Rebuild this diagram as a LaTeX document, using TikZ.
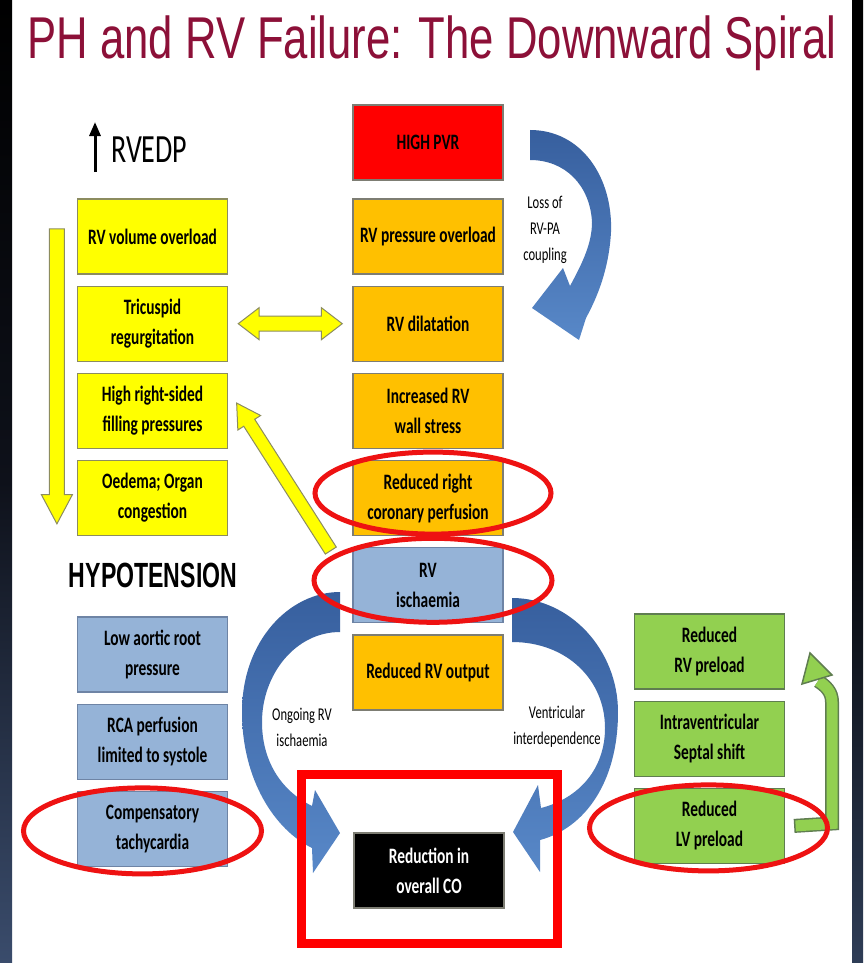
\documentclass[tikz,border=0pt]{standalone}
\usepackage{fontspec}
\setmainfont{Carlito}[FakeStretch=0.7]
\newfontfamily\titlefont{Liberation Sans}[FakeStretch=0.74]
\newfontfamily\hypofont{Liberation Sans}[FakeStretch=0.66]
\usetikzlibrary{positioning,calc,shapes.arrows,arrows.meta}

\definecolor{titlered}{RGB}{140,16,56}
\definecolor{volyellow}{RGB}{255,255,0}
\definecolor{presorange}{RGB}{255,192,0}
\definecolor{pvrred}{RGB}{255,0,0}
\definecolor{hypoblue}{RGB}{149,179,215}
\definecolor{lvgreen}{RGB}{146,208,80}
\definecolor{boxedge}{RGB}{125,125,115}
\definecolor{yedge}{RGB}{140,140,95}
\definecolor{bedge}{RGB}{110,132,165}
\definecolor{gedge}{RGB}{95,125,80}
\definecolor{spiraltop}{RGB}{55,95,158}
\definecolor{spiralbot}{RGB}{88,136,200}
\definecolor{ringred}{RGB}{238,18,18}
\definecolor{stripblue}{RGB}{58,76,108}
\definecolor{stripdark}{RGB}{14,17,26}

\begin{document}
\begin{tikzpicture}
[x=1pt,y=-1pt,%
  node distance=11pt,%
  box/.style={draw=boxedge,line width=1.2pt,minimum width=150pt,minimum height=75pt,%
    inner sep=2pt,align=center,font=\fontsize{22}{30}\selectfont\bfseries},%
  yellowbox/.style={box,fill=volyellow,draw=yedge},%
  orangebox/.style={box,fill=presorange},%
  bluebox/.style={box,fill=hypoblue,draw=bedge},%
  greenbox/.style={box,fill=lvgreen,draw=gedge},%
  yarrow/.style={draw=yedge,fill=volyellow,line width=1pt,inner sep=0pt,inner ysep=7pt},%
  spiral/.style={top color=spiraltop,bottom color=spiralbot},%
  ring/.style={draw=ringred,line width=5pt},%
  note/.style={align=center,font=\fontsize{18}{26}\selectfont}]

% slide with dark side strips
\useasboundingbox (0,0) rectangle (863,963);
\fill[white] (0,0) rectangle (863,963);
\shade[top color=black,bottom color=stripblue,middle color=stripdark] (0,0) rectangle (12,963);
\shade[top color=black,bottom color=stripblue!80!black,middle color=black] (852,0) rectangle (863,963);

\node[anchor=base,text=titlered,inner sep=0pt,font=\titlefont\fontsize{59}{59}\selectfont]
  (title) at (432,59) {PH and RV Failure: The Downward Spiral};

% centre column
\node[box,fill=pvrred] (pvr) at (428,142.5) {HIGH PVR};
\node[orangebox] (pres) at (428,236.5) {RV pressure overload};
\node[orangebox,below=of pres] (dil) {RV dilatation};
\node[orangebox,below=of dil] (wall) {Increased RV\\wall stress};
\node[orangebox,below=of wall] (coro) {Reduced right\\coronary perfusion};
\node[bluebox,below=of coro] (isch) {RV\\ischaemia};
\node[orangebox,below=of isch] (out) {Reduced RV output};

% right heart side
\node[inner sep=0pt,anchor=west,font=\fontsize{40}{40}\selectfont] (rvedp) at (111,150) {RVEDP};
\coordinate (rvedplo) at ($(rvedp.west)+(-16,22)$);
\coordinate (rvedphi) at ($(rvedp.west)+(-16,-28)$);
\draw[line width=3pt,-{Triangle[width=11pt,length=14pt]}] (rvedplo) -- (rvedphi);
\node[yellowbox] (vol) at (152.5,236.5) {RV volume overload};
\node[yellowbox,below=of vol] (tric) {Tricuspid\\regurgitation};
\node[yellowbox,below=of tric] (fillp) {High right-sided\\filling pressures};
\node[yellowbox,below=of fillp] (oed) {Oedema; Organ\\congestion};

% hypotension
\node[font=\hypofont\bfseries\fontsize{35}{35}\selectfont] (hypo) at (153,575) {HYPOTENSION};
\node[bluebox] (aortic) at (152.5,654.5) {Low aortic root\\pressure};
\node[bluebox,below=of aortic] (rca) {RCA perfusion\\limited to systole};
\node[bluebox,below=of rca] (tachy) {Compensatory\\tachycardia};

% left ventricle
\node[greenbox] (rvpre) at (709.5,651.5) {Reduced\\RV preload};
\node[greenbox,below=of rvpre] (septal) {Intraventricular\\Septal shift};
\node[greenbox,below=of septal] (lvpre) {Reduced\\LV preload};

\node[box,fill=black,text=white] (co) at (429,870.5) {Reduction in\\overall CO};

% yellow block arrows
\coordinate (rvtop) at ($(vol.west)+(-20,-16)$);
\coordinate (rvbot) at ($(oed.west)+(-20,20)$);
\path (rvtop) -- (rvbot) node[midway,sloped,allow upside down,yarrow,single arrow,
  minimum height=295pt,single arrow head extend=8pt,single arrow tip angle=56] (downarr) {};
\path (tric.east) -- (dil.west) node[midway,yarrow,double arrow,minimum height=104pt,
  double arrow head extend=8.5pt,double arrow tip angle=75] (tdarr) {};
\coordinate (fillin) at ($(fillp.east)+(11,-4)$);
\coordinate (ischout) at ($(isch.north west)+(-18,9)$);
\path (ischout) -- (fillin) node[midway,sloped,allow upside down,yarrow,inner ysep=6pt,single arrow,
  minimum height=175pt,single arrow head extend=7pt,single arrow tip angle=60] (diagarr) {};

% blue curved arrows
\shade[spiral] (530,130) .. controls (582,130) and (613,178) .. (611,232)
  .. controls (609,268) and (598,296) .. (586,318) -- (579,340) -- (532,308) -- (563,268) -- (570,286)
  .. controls (583,262) and (592,243) .. (592,222) .. controls (590,185) and (565,160) .. (530,160) -- cycle;
\node[note] (lossl) at (545,230) {Loss of\\RV-PA\\coupling};

\shade[spiral] (340,592) .. controls (290,592) and (242,640) .. (242,712)
  .. controls (242,780) and (275,830) .. (312,848) -- (313,873) -- (340,833) -- (315,790) -- (312,806)
  .. controls (280,790) and (262,760) .. (262,722) .. controls (262,675) and (295,632) .. (340,632) -- cycle;
\node[note] (ongl) at (302,727) {Ongoing RV\\ischaemia};

\shade[spiral] (512,598) .. controls (570,598) and (618,650) .. (618,712)
  .. controls (618,782) and (585,828) .. (540,840) -- (540,872) -- (513,832) -- (538,785) -- (541,808)
  .. controls (580,798) and (605,768) .. (605,728) .. controls (605,680) and (567,642) .. (512,642) -- cycle;
\node[note] (ventl) at (557,727) {Ventricular\\interdependence};

% green hook arrow
\coordinate (lvout) at ($(lvpre.east)+(9,0)$);
\draw[line width=14pt,draw=gedge] (lvout) -- (832,823.5) -- (832,702) .. controls (832,692) and (826,686) .. (818,681);
\draw[line width=11pt,draw=lvgreen] ($(lvout)+(1.5,0)$) -- (832,823.5) -- (832,702) .. controls (832,692) and (826,686) .. (818,681);
\filldraw[fill=lvgreen,draw=gedge,line width=1.5pt] (810,653) -- (832,675) -- (802,684) -- cycle;

% red highlights
\node[draw=pvrred,line width=9pt,minimum width=256pt,minimum height=169pt,inner sep=0pt] (cofr) at (429.5,859) {};
\draw[ring] ($(coro)+(5,-5)$) ellipse [x radius=118,y radius=41];
\draw[ring] ($(isch)+(5,-5)$) ellipse [x radius=119,y radius=42];
\draw[ring] ($(tachy)+(-10,2)$) ellipse [x radius=119,y radius=43];
\draw[ring] ($(lvpre)+(-1,2)$) ellipse [x radius=119,y radius=43];
\end{tikzpicture}
\end{document}
